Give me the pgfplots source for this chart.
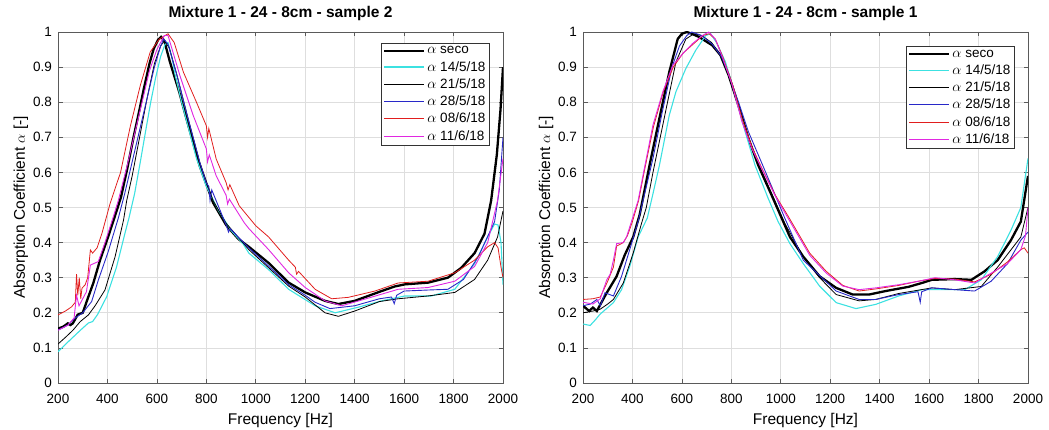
\documentclass[border=0pt]{standalone}
\usepackage{fontspec}
\setmainfont{Liberation Sans}
\usepackage{pgfplots}
\pgfplotsset{compat=1.18}
\definecolor{ccyan}{RGB}{60,225,225}
\definecolor{cblue}{RGB}{40,40,200}
\definecolor{cred}{RGB}{225,30,30}
\definecolor{cmag}{RGB}{225,40,225}
\definecolor{axgray}{RGB}{90,90,90}
\pgfplotsset{
  mystyle/.style={
    scale only axis, width=445pt, height=351pt,
    xmin=200, xmax=2000, ymin=0, ymax=1,
    xtick={200,400,600,800,1000,1200,1400,1600,1800,2000},
    ytick={0,0.1,0.2,0.3,0.4,0.5,0.6,0.7,0.8,0.9,1},
    yticklabels={0,0.1,0.2,0.3,0.4,0.5,0.6,0.7,0.8,0.9,1},
    /pgf/number format/1000 sep={},
    /pgf/number format/assume math mode=true,
    grid=major, major grid style={black!13, line width=0.7pt},
    axis line style={axgray, line width=0.8pt},
    tick align=inside, major tick length=4.5pt,
    tick style={axgray, line width=0.7pt},
    tick label style={font=\fontsize{13.5}{16}\selectfont},
    xticklabel style={anchor=base, yshift=-20pt, inner sep=0pt},
    yticklabel style={anchor=east, xshift=-6pt, inner sep=0pt},
    title style={font=\bfseries\fontsize{15.5}{18}\selectfont, at={([yshift=8pt]axis description cs:0.5,1)}, anchor=base},
    xlabel style={font=\fontsize{15.5}{18}\selectfont, at={([yshift=-41pt]axis description cs:0.5,0)}, anchor=base},
    ylabel style={font=\fontsize{15.5}{18}\selectfont, at={([xshift=-33pt]axis description cs:0,0.5)}, anchor=base},
    xlabel={Frequency [Hz]},
    ylabel={Absorption Coefficient $\alpha$ [-]},
    legend cell align=left,
    legend style={font=\fontsize{13.5}{16}\selectfont, draw=black!80, fill=white, anchor=north east, inner sep=1.5pt, row sep=2pt},
    legend image code/.code={\draw[#1] (0pt,0pt) -- (40pt,0pt);},
  }
}
\begin{document}
\begin{tikzpicture}
\path[use as bounding box] (0,0) rectangle (1049pt,429pt);
% ---------------- left: sample 2
\begin{axis}[mystyle, at={(58pt,46pt)}, anchor=south west,
  title={Mixture 1 - 24 - 8cm - sample 2},
  legend style={at={(0.9685,0.969)}}]
\addplot[draw=black, line width=2.3pt] coordinates {
(200,0.155)(220,0.16)(240,0.17)(250,0.165)(260,0.17)(280,0.195)(300,0.2)(310,0.22)(323,0.246)(343,0.285)(370,0.35)(403,0.417)(437,0.49)(455,0.53)(480,0.61)(507,0.705)(530,0.78)(547,0.838)(570,0.91)(587,0.952)(605,0.978)(617,0.986)(630,0.975)(653,0.914)(690,0.83)(720,0.752)(773,0.619)(827,0.514)(880,0.45)(930,0.41)(972,0.388)(1052,0.342)(1133,0.286)(1200,0.258)(1280,0.234)(1334,0.225)(1400,0.234)(1509,0.262)(1562,0.275)(1603,0.281)(1697,0.286)(1777,0.30)(1831,0.328)(1885,0.37)(1925,0.425)(1952,0.52)(1975,0.65)(1990,0.78)(2000,0.90)};
\addlegendentry{$\alpha$ seco}
\addplot[draw=ccyan, line width=1.1pt] coordinates {
(200,0.089)(230,0.11)(260,0.13)(290,0.15)(323,0.171)(340,0.175)(360,0.195)(397,0.246)(437,0.331)(471,0.427)(487,0.47)(510,0.54)(533,0.63)(555,0.72)(575,0.80)(595,0.87)(615,0.93)(633,0.965)(645,0.97)(660,0.93)(673,0.88)(700,0.80)(730,0.72)(760,0.64)(800,0.56)(850,0.49)(900,0.435)(950,0.395)(972,0.37)(1052,0.323)(1133,0.267)(1240,0.22)(1321,0.20)(1415,0.216)(1509,0.234)(1603,0.248)(1710,0.248)(1805,0.267)(1885,0.34)(1938,0.416)(1966,0.453)(1980,0.45)(1992,0.40)(2000,0.28)};
\addlegendentry{$\alpha$ 14/5/18}
\addplot[draw=black, line width=0.8pt] coordinates {
(200,0.111)(230,0.13)(260,0.15)(290,0.175)(323,0.194)(350,0.22)(390,0.265)(431,0.36)(465,0.464)(478,0.52)(500,0.59)(530,0.70)(560,0.81)(590,0.91)(615,0.96)(630,0.975)(650,0.955)(680,0.88)(720,0.77)(773,0.63)(827,0.52)(880,0.455)(972,0.38)(1133,0.276)(1200,0.245)(1280,0.20)(1334,0.19)(1400,0.205)(1500,0.232)(1576,0.24)(1697,0.248)(1805,0.258)(1885,0.295)(1938,0.35)(1978,0.416)(2000,0.49)};
\addlegendentry{$\alpha$ 21/5/18}
\addplot[draw=cblue, line width=0.9pt] coordinates {
(200,0.151)(240,0.165)(269,0.185)(300,0.2)(336,0.232)(363,0.293)(403,0.374)(444,0.47)(470,0.54)(500,0.63)(530,0.72)(560,0.81)(590,0.90)(615,0.96)(628,0.98)(645,0.965)(680,0.88)(720,0.77)(773,0.63)(800,0.57)(810,0.56)(815,0.52)(822,0.55)(880,0.45)(890,0.43)(896,0.44)(972,0.385)(1133,0.28)(1200,0.25)(1240,0.23)(1300,0.212)(1400,0.22)(1500,0.24)(1549,0.245)(1560,0.226)(1570,0.25)(1600,0.262)(1700,0.265)(1777,0.267)(1840,0.295)(1900,0.36)(1966,0.46)(1985,0.55)(2000,0.70)};
\addlegendentry{$\alpha$ 28/5/18}
\addplot[draw=cred, line width=0.8pt] coordinates {
(200,0.194)(230,0.205)(255,0.217)(270,0.23)(275,0.31)(280,0.25)(286,0.30)(292,0.24)(297,0.27)(310,0.28)(320,0.30)(331,0.379)(340,0.37)(358,0.385)(378,0.427)(411,0.512)(453,0.60)(493,0.733)(533,0.848)(573,0.943)(610,0.98)(645,0.995)(670,0.97)(707,0.886)(760,0.80)(800,0.733)(805,0.70)(810,0.725)(840,0.638)(880,0.571)(888,0.55)(895,0.565)(933,0.505)(1000,0.448)(1052,0.416)(1133,0.35)(1160,0.33)(1165,0.31)(1173,0.318)(1240,0.267)(1307,0.24)(1374,0.244)(1482,0.262)(1576,0.285)(1697,0.29)(1805,0.314)(1885,0.35)(1938,0.388)(1966,0.40)(1980,0.385)(1992,0.33)(2000,0.30)};
\addlegendentry{$\alpha$ 08/6/18}
\addplot[draw=cmag, line width=0.9pt] coordinates {
(200,0.15)(240,0.165)(265,0.185)(275,0.25)(285,0.22)(300,0.24)(315,0.26)(331,0.336)(363,0.346)(390,0.40)(424,0.474)(444,0.52)(480,0.62)(510,0.71)(540,0.80)(570,0.89)(600,0.95)(630,0.99)(645,0.99)(693,0.876)(747,0.762)(800,0.667)(805,0.63)(812,0.65)(840,0.59)(880,0.535)(886,0.51)(893,0.524)(953,0.457)(972,0.44)(1052,0.38)(1133,0.314)(1200,0.272)(1280,0.234)(1348,0.22)(1441,0.239)(1576,0.267)(1697,0.272)(1805,0.29)(1885,0.332)(1938,0.40)(1978,0.52)(2000,0.64)};
\addlegendentry{$\alpha$ 11/6/18}
\end{axis}
% ---------------- right: sample 1
\begin{axis}[mystyle, at={(583pt,46pt)}, anchor=south west,
  title={Mixture 1 - 24 - 8cm - sample 1},
  legend style={at={(0.9685,0.96)}}]
\addplot[draw=black, line width=2.3pt] coordinates {
(200,0.22)(225,0.205)(240,0.215)(256,0.205)(275,0.23)(296,0.257)(336,0.304)(369,0.365)(403,0.416)(429,0.479)(469,0.62)(509,0.754)(549,0.886)(583,0.98)(600,0.995)(620,1.0)(640,0.995)(669,0.986)(723,0.962)(756,0.934)(789,0.877)(829,0.79)(869,0.697)(909,0.62)(963,0.535)(1016,0.45)(1037,0.416)(1091,0.36)(1157,0.304)(1224,0.271)(1291,0.252)(1357,0.252)(1424,0.262)(1517,0.274)(1571,0.285)(1611,0.294)(1704,0.296)(1771,0.294)(1824,0.318)(1877,0.35)(1931,0.407)(1971,0.46)(2000,0.59)};
\addlegendentry{$\alpha$ seco}
\addplot[draw=ccyan, line width=1.1pt] coordinates {
(200,0.168)(229,0.164)(250,0.18)(269,0.196)(300,0.215)(323,0.229)(356,0.266)(389,0.332)(423,0.416)(460,0.47)(480,0.53)(509,0.62)(549,0.763)(576,0.83)(616,0.896)(656,0.948)(696,0.99)(716,0.995)(740,0.97)(776,0.915)(816,0.82)(856,0.716)(896,0.62)(949,0.526)(989,0.46)(1037,0.397)(1091,0.34)(1157,0.276)(1224,0.229)(1304,0.212)(1384,0.224)(1477,0.248)(1571,0.266)(1651,0.266)(1744,0.266)(1811,0.294)(1877,0.36)(1931,0.435)(1971,0.50)(2000,0.64)};
\addlegendentry{$\alpha$ 14/5/18}
\addplot[draw=black, line width=0.8pt] coordinates {
(200,0.2)(240,0.205)(269,0.21)(300,0.225)(323,0.238)(363,0.285)(403,0.37)(436,0.453)(456,0.5)(483,0.6)(536,0.78)(576,0.915)(616,0.98)(649,0.995)(680,0.99)(720,0.97)(756,0.935)(789,0.877)(829,0.795)(869,0.70)(909,0.625)(963,0.54)(1016,0.455)(1091,0.36)(1157,0.30)(1224,0.252)(1317,0.234)(1384,0.238)(1477,0.255)(1611,0.271)(1704,0.266)(1811,0.275)(1877,0.33)(1971,0.416)(2000,0.50)};
\addlegendentry{$\alpha$ 21/5/18}
\addplot[draw=cblue, line width=0.9pt] coordinates {
(200,0.22)(230,0.225)(256,0.238)(270,0.22)(289,0.257)(323,0.248)(356,0.304)(389,0.38)(423,0.46)(443,0.52)(483,0.64)(520,0.77)(560,0.90)(590,0.96)(620,0.99)(640,1.0)(680,0.99)(723,0.965)(760,0.93)(789,0.88)(829,0.80)(869,0.716)(909,0.65)(963,0.56)(1016,0.47)(1091,0.35)(1224,0.262)(1317,0.238)(1384,0.238)(1477,0.252)(1555,0.26)(1564,0.23)(1570,0.26)(1611,0.271)(1704,0.266)(1784,0.262)(1851,0.29)(1917,0.34)(1971,0.407)(2000,0.43)};
\addlegendentry{$\alpha$ 28/5/18}
\addplot[draw=cred, line width=0.8pt] coordinates {
(200,0.238)(240,0.24)(270,0.245)(300,0.29)(323,0.33)(336,0.39)(363,0.40)(380,0.42)(400,0.46)(425,0.52)(447,0.60)(485,0.73)(525,0.83)(565,0.90)(605,0.94)(645,0.965)(685,0.99)(710,0.995)(735,0.98)(765,0.93)(805,0.85)(845,0.75)(885,0.67)(925,0.61)(978,0.535)(1030,0.475)(1117,0.37)(1184,0.318)(1251,0.278)(1317,0.262)(1384,0.268)(1477,0.278)(1557,0.29)(1624,0.298)(1704,0.296)(1784,0.288)(1851,0.31)(1917,0.345)(1971,0.38)(1985,0.385)(2000,0.37)};
\addlegendentry{$\alpha$ 08/6/18}
\addplot[draw=cmag, line width=0.9pt] coordinates {
(200,0.23)(240,0.225)(270,0.24)(296,0.294)(310,0.31)(323,0.35)(336,0.397)(363,0.40)(376,0.416)(396,0.46)(423,0.52)(445,0.60)(483,0.735)(523,0.83)(563,0.905)(603,0.938)(643,0.967)(683,0.99)(709,1.0)(735,0.98)(763,0.93)(803,0.85)(843,0.744)(883,0.668)(923,0.61)(976,0.535)(1029,0.47)(1117,0.364)(1184,0.313)(1251,0.276)(1317,0.266)(1384,0.271)(1477,0.28)(1557,0.29)(1624,0.30)(1704,0.294)(1784,0.285)(1851,0.313)(1917,0.34)(1971,0.38)(1990,0.42)(2000,0.50)};
\addlegendentry{$\alpha$ 11/6/18}
\end{axis}
\end{tikzpicture}
\end{document}
